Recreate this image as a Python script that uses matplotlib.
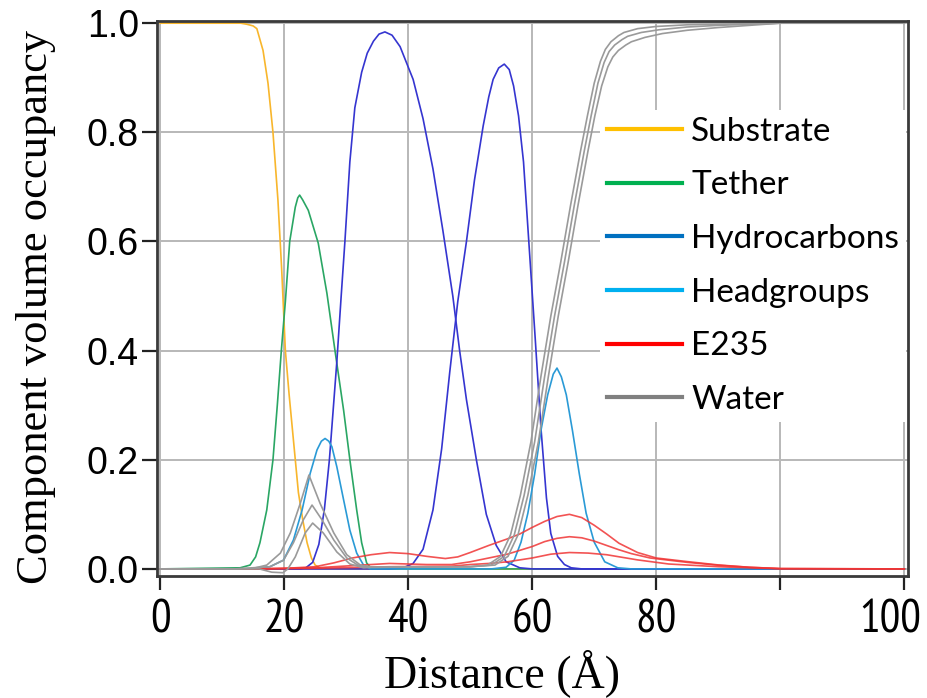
import matplotlib
matplotlib.use('Agg')
import matplotlib.pyplot as plt
from matplotlib.lines import Line2D
from matplotlib.transforms import ScaledTranslation

# ---- data (distance in the plot's tick units) ----
sub_x = [0, 13, 14, 15, 15.6, 16.6, 17.4, 18.2, 19.0, 19.6, 20.2, 20.8, 21.3, 22.3, 23.0, 23.7, 24.4, 25.0, 26.0, 120]
sub_y = [1.0, 1.0, 0.998, 0.995, 0.99, 0.95, 0.89, 0.80, 0.676, 0.55, 0.40, 0.32, 0.26, 0.14, 0.09, 0.048, 0.02, 0.007, 0.0, 0.0]

tet_x = [0, 12.9, 14.5, 15.4, 16.1, 17.2, 18.2, 18.9, 19.55, 20.2, 20.9, 21.8, 22.2, 22.5, 23.0, 23.9, 25.5, 26.9, 28.2, 29.6, 30.6, 31.7, 32.5, 33.3, 34.1, 120]
tet_y = [0, 0.002, 0.007, 0.022, 0.048, 0.108, 0.2, 0.3, 0.4, 0.49, 0.6, 0.663, 0.68, 0.685, 0.676, 0.657, 0.597, 0.505, 0.4, 0.29, 0.2, 0.108, 0.048, 0.011, 0, 0]

hyd1_x = [0, 22.6, 23.5, 24.6, 25.6, 26.5, 27.3, 28.5, 29.2, 29.8, 30.6, 31.4, 32.5, 33.4, 34.4, 35.3, 36.25, 37.4, 38.7, 40.8, 42.4, 44.0, 45.6, 47.2, 48.3, 49.4, 51.0, 52.6, 54.2, 55.8, 58.0, 60, 120]
hyd1_y = [0, 0, 0.002, 0.012, 0.045, 0.11, 0.2, 0.38, 0.5, 0.6, 0.746, 0.845, 0.91, 0.945, 0.967, 0.98, 0.984, 0.978, 0.957, 0.897, 0.825, 0.733, 0.62, 0.5, 0.40, 0.31, 0.2, 0.10, 0.043, 0.013, 0.002, 0, 0]

hyd2_x = [0, 37, 39.2, 40.8, 42.4, 44.0, 45.4, 46.7, 48.0, 49.4, 50.7, 52.1, 53.0, 53.7, 54.6, 55.5, 56.3, 57.0, 57.8, 58.6, 59.6, 60.5, 61.4, 62.3, 63.0, 64.1, 65.2, 66.3, 68, 120]
hyd2_y = [0, 0, 0.002, 0.01, 0.036, 0.108, 0.22, 0.36, 0.49, 0.60, 0.713, 0.812, 0.865, 0.897, 0.918, 0.925, 0.915, 0.885, 0.83, 0.746, 0.575, 0.42, 0.26, 0.13, 0.065, 0.023, 0.008, 0.002, 0, 0]

head_x = [0, 14.5, 17.7, 19.9, 21.5, 22.9, 24.2, 25.3, 26.0, 26.6, 27.2, 27.7, 28.5, 29.6, 30.6, 31.7, 32.8, 33.9, 36,
          53.4, 55.8, 57.1, 58.2, 59.3, 60.4, 61.4, 62.5, 63.4, 64.0, 64.7, 65.5, 66.5, 67.6, 68.7, 70.0, 71.7, 73.8, 76, 120]
head_y = [0, 0, 0.004, 0.016, 0.053, 0.108, 0.175, 0.218, 0.234, 0.239, 0.234, 0.224, 0.187, 0.126, 0.071, 0.029, 0.007, 0.0, 0,
          0, 0.003, 0.016, 0.049, 0.102, 0.174, 0.253, 0.319, 0.357, 0.368, 0.352, 0.319, 0.253, 0.174, 0.102, 0.049, 0.013, 0.002, 0, 0]

# E235, three fits
e1_x = [0, 15, 20, 25, 28, 31, 34, 37, 40, 43, 46, 48, 50, 53, 56, 58, 60, 62, 64, 66, 68, 70, 72, 74, 77, 80, 85, 90, 95, 100, 120]
e1_y = [0, 0, 0.001, 0.004, 0.011, 0.02, 0.026, 0.03, 0.028, 0.023, 0.019, 0.022, 0.03, 0.043, 0.055, 0.064, 0.076, 0.087, 0.096, 0.1, 0.094, 0.08, 0.064, 0.047, 0.03, 0.02, 0.0134, 0.0073, 0.003, 0.0006, 0]
e2_x = [0, 15, 25, 31, 37, 43, 47, 50, 53, 56, 58, 60, 62, 64, 66, 68, 70, 72, 74, 76, 79, 85, 90, 95, 100, 120]
e2_y = [0, 0, 0.002, 0.006, 0.01, 0.008, 0.008, 0.013, 0.02, 0.027, 0.034, 0.041, 0.05, 0.056, 0.059, 0.057, 0.051, 0.043, 0.035, 0.028, 0.02, 0.012, 0.0067, 0.003, 0.0005, 0]
e3_x = [0, 15, 25, 37, 47, 50, 53, 56, 60, 63, 66, 69, 72, 77, 82, 90, 95, 100, 120]
e3_y = [0, 0, 0.001, 0.004, 0.005, 0.008, 0.01, 0.013, 0.02, 0.027, 0.03, 0.029, 0.026, 0.0165, 0.009, 0.004, 0.002, 0.0003, 0]

# water, three fits
w1_x = [0, 12, 15, 17.2, 19.4, 21.0, 22.6, 24.0, 25.8, 28.0, 30.1, 32.3, 34.4,
        50, 52.8, 54.9, 56.5, 58.1, 59.8, 61.4, 63.0, 64.6, 66.2, 67.8, 68.9, 70.0, 71.0, 71.8, 72.7, 73.9, 74.8, 77.0, 80.0, 85, 90, 100, 120]
w1_y = [0, 0, 0.001, 0.007, 0.029, 0.066, 0.12, 0.172, 0.12, 0.066, 0.026, 0.007, 0.003,
        0.004, 0.007, 0.023, 0.062, 0.135, 0.233, 0.352, 0.463, 0.562, 0.667, 0.766, 0.83, 0.89, 0.93, 0.952, 0.966, 0.977, 0.983, 0.99, 0.994, 0.997, 0.998, 1.0, 1.0]
w2_x = [0, 12, 17.7, 19.9, 21.5, 23.1, 24.5, 26.1, 28.0, 30.1, 32.3, 34.4,
        50, 53.4, 55.5, 57.1, 58.7, 60.4, 62.0, 63.6, 65.2, 66.8, 68.4, 69.5, 70.6, 71.6, 72.4, 73.3, 74.5, 75.4, 77.6, 80.5, 85, 90, 100, 120]
w2_y = [0, 0, 0.004, 0.016, 0.048, 0.09, 0.117, 0.09, 0.053, 0.02, 0.004, 0.003,
        0.004, 0.007, 0.023, 0.062, 0.135, 0.233, 0.352, 0.463, 0.562, 0.667, 0.766, 0.83, 0.89, 0.928, 0.948, 0.96, 0.97, 0.976, 0.983, 0.988, 0.993, 0.996, 1.0, 1.0]
w3_x = [0, 12, 16, 18, 19.8, 20.6, 21.8, 23.4, 24.6, 26.3, 28.5, 30.6, 32.8, 34.4,
        50, 54.0, 56.1, 57.7, 59.3, 61.0, 62.6, 64.2, 65.8, 67.4, 69.0, 70.1, 71.2, 72.2, 73.0, 73.9, 75.1, 76.0, 78.2, 81.0, 85, 90, 100, 120]
w3_y = [0, 0, 0, -0.006, -0.007, 0.0, 0.022, 0.066, 0.084, 0.066, 0.031, 0.009, 0.002, 0.003,
        0.004, 0.007, 0.023, 0.062, 0.135, 0.233, 0.352, 0.463, 0.562, 0.667, 0.766, 0.83, 0.885, 0.92, 0.938, 0.95, 0.96, 0.966, 0.974, 0.981, 0.987, 0.992, 1.0, 1.0]

x_ticks = [0, 20, 40, 60, 80, 100, 120]
x_tick_labels = ['0', '20', '40', '60', '80', '', '100']
y_ticks = [0.0, 0.2, 0.4, 0.6, 0.8, 1.0]

legend_names = ['Substrate', 'Tether', 'Hydrocarbons', 'Headgroups', 'E235', 'Water']
legend_colors = ['#FFC000', '#00B050', '#0070C0', '#00B0F0', '#FF0000', '#808080']

# ---- figure ----
fig = plt.figure(figsize=(9.27, 6.98), dpi=100)
ax = fig.add_axes([157 / 927, 122 / 698, 751 / 927, 555 / 698])

lw = 1.2
ax.plot(sub_x, sub_y, color='#f8b62c', lw=lw)
ax.plot(tet_x, tet_y, color='#2aa664', lw=lw)
ax.plot(hyd1_x, hyd1_y, color='#3535d0', lw=lw)
ax.plot(hyd2_x, hyd2_y, color='#3535d0', lw=lw)
ax.plot(head_x, head_y, color='#2a9ad6', lw=lw)
for ex, ey in [(e1_x, e1_y), (e2_x, e2_y), (e3_x, e3_y)]:
    ax.plot(ex, ey, color='#f03535', lw=lw, alpha=0.85)
for wx, wy in [(w1_x, w1_y), (w2_x, w2_y), (w3_x, w3_y)]:
    ax.plot(wx, wy, color='#9a9a9a', lw=lw)

ax.set_xlim(-0.5, 120.6)
ax.set_ylim(-0.013, 1.004)
ax.set_axisbelow(True)
ax.grid(True, color='#b8b8b8', lw=1.4)

for sp in ax.spines.values():
    sp.set_color('#3a3a3a')
    sp.set_linewidth(2)

ax.set_yticks(y_ticks)
ax.set_yticklabels(['%.1f' % v for v in y_ticks], family='Liberation Sans', fontsize=27)
ax.set_xticks(x_ticks)
ax.set_xticklabels(x_tick_labels, family=['PT Sans Narrow', 'DejaVu Sans'], fontsize=33)
ax.tick_params(axis='x', direction='out', length=10, width=1.6, pad=7, color='#222222')
ax.tick_params(axis='y', direction='out', length=11, width=1.6, pad=2, color='#222222')

last = ax.get_xticklabels()[-1]
last.set_transform(last.get_transform() + ScaledTranslation(-0.14, 0, fig.dpi_scale_trans))

ax.set_xlabel('Distance (Å)', family='Liberation Serif', fontsize=33)
ax.xaxis.set_label_coords((502 - 157) / 751, -0.132)
ax.set_ylabel('Component volume occupancy', family='Liberation Serif', fontsize=32)
ax.yaxis.set_label_coords(-0.135, 0.485)

handles = [Line2D([0], [0], color=c, lw=3) for c in legend_colors]
leg = ax.legend(handles, legend_names, loc='upper left',
                bbox_to_anchor=(600 / 927, 1 - 110 / 698), bbox_transform=fig.transFigure,
                prop={'family': 'Lato', 'size': 24}, frameon=True, facecolor='white',
                edgecolor='none', framealpha=1, fancybox=False, borderpad=0.2,
                borderaxespad=0, handlelength=2.25, handletextpad=0.28, labelspacing=0.71)

fig.savefig('out.png', dpi=100)
